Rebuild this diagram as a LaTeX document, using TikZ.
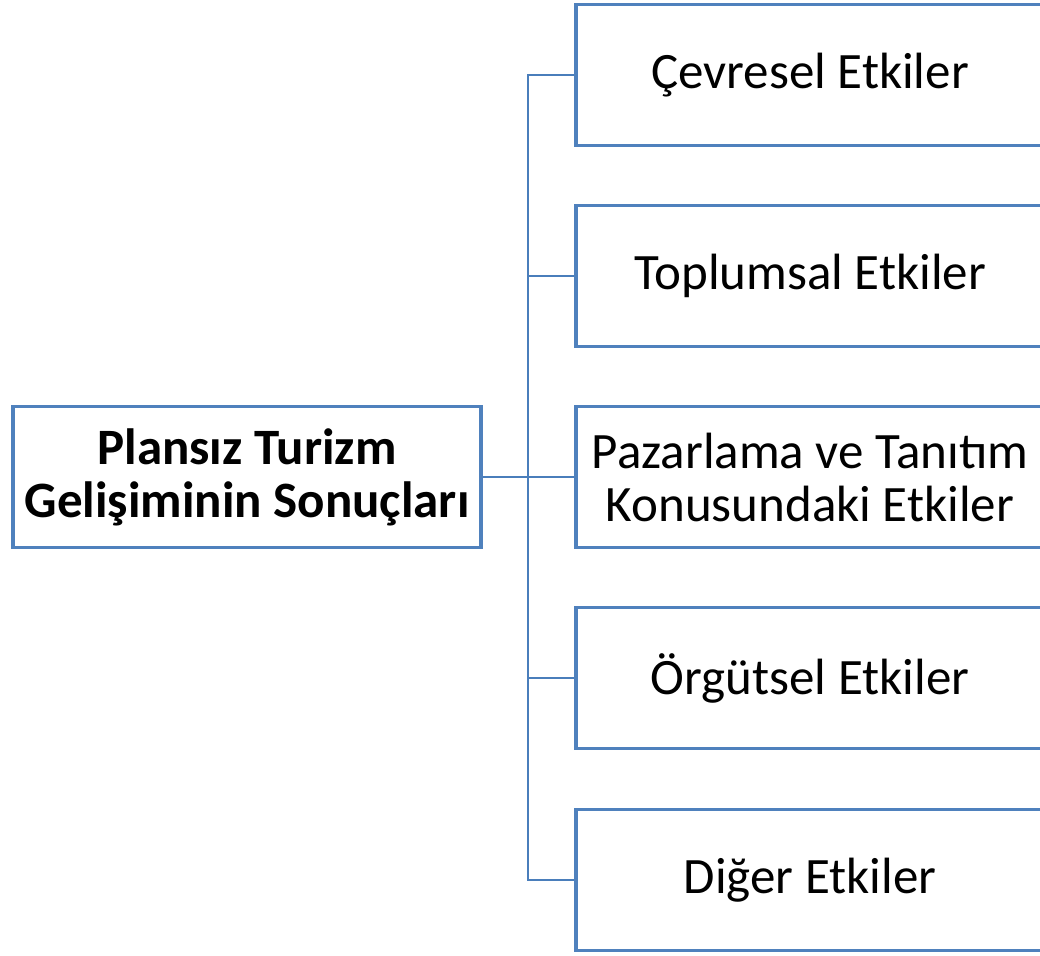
\documentclass[tikz,border=0pt]{standalone}
\usepackage{fontspec}
\setmainfont{Carlito}
\definecolor{boxblue}{HTML}{4F81BD}
\definecolor{linkblue}{HTML}{4A7EBB}
\tikzset{
  box/.style={draw=boxblue, line width=3.5pt, minimum width=468pt, minimum height=141pt, align=center, inner sep=0pt, font=\fontsize{51}{53}\selectfont},
  link/.style={draw=linkblue, line width=2pt}
}
\begin{document}
\begin{tikzpicture}[x=1pt,y=-1pt]
\useasboundingbox (0,0) rectangle (1040,955);
\clip (0,0) rectangle (1040,955);
\node[box, font=\fontsize{51}{53}\selectfont\bfseries] (root) at (247,477) {Plansız Turizm\\Gelişiminin Sonuçları};
\node[box] (b1) at (810,75) {Çevresel Etkiler};
\node[box] (b2) at (810,276) {Toplumsal Etkiler};
\node[box] (b3) at (810,477) {Pazarlama ve Tanıtım\\Konusundaki Etkiler};
\node[box] (b4) at (810,678) {Örgütsel Etkiler};
\node[box] (b5) at (810,880) {Diğer Etkiler};
\coordinate (j) at (528,477);
\draw[link] (root.east) -- (j);
\foreach \b in {b1,b2,b3,b4,b5}{
  \draw[link] (j) |- (\b.west);
}
\end{tikzpicture}
\end{document}
